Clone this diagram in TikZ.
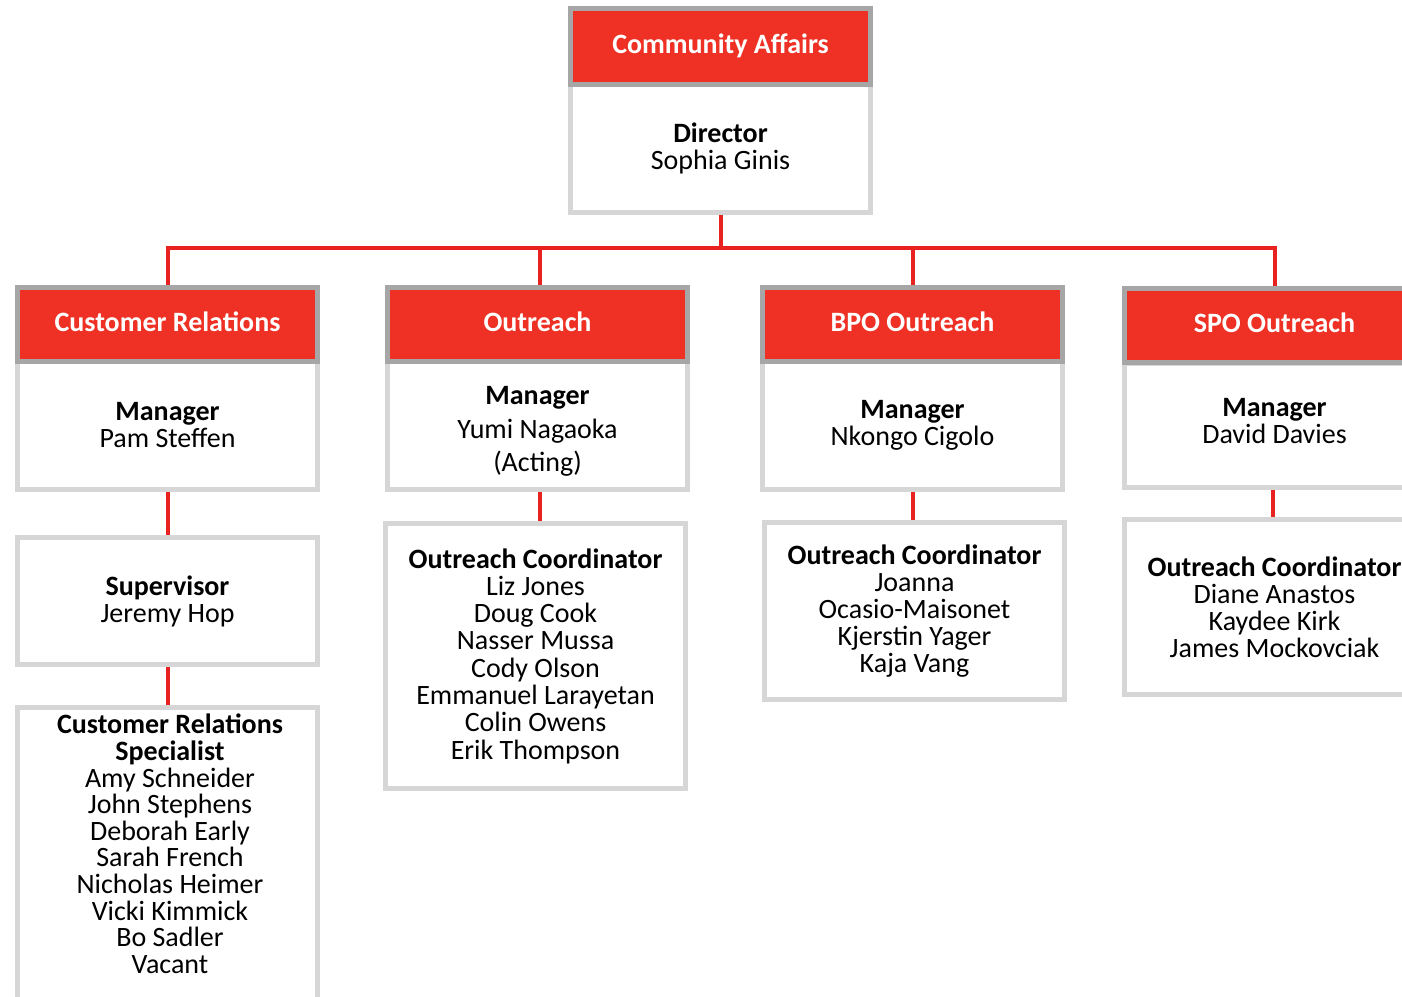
\documentclass[tikz,border=0pt]{standalone}
\usepackage{fontspec}
\setmainfont{Carlito}
\definecolor{hred}{HTML}{EE3124}
\definecolor{hgray}{HTML}{A6A6A6}
\definecolor{bgray}{HTML}{D6D6D6}
\definecolor{lred}{HTML}{E8221E}
\begin{document}
\begin{tikzpicture}[x=1pt,y=-1pt,
  hdr/.style={draw=hgray, line width=5pt, fill=hred, text=white,
    font=\fontsize{28}{27}\selectfont\bfseries, minimum width=300pt,
    minimum height=74pt, inner sep=0pt, text height=20pt, text depth=6pt},
  bodybox/.style={draw=bgray, line width=5pt, fill=white, minimum width=300pt,
    align=center, font=\fontsize{28}{27}\selectfont, inner sep=0pt},
  txt/.style={align=center, font=\fontsize{28}{26.6}\selectfont, inner sep=0pt},
  conn/.style={draw=lred, line width=4pt}]
\useasboundingbox (0,0) rectangle (1402,996);
\clip (0,0) rectangle (1402,996);
\fill[white] (0,0) rectangle (1402,996);
% top
\node[bodybox, minimum height=128pt] (cab) at (720.5,148.5) {\textbf{Director}\\Sophia Ginis};
\node[hdr, minimum height=76pt] (cah) at (720.5,46.5) {Community Affairs};
% level 2
\node[bodybox, minimum height=128pt] (crb) at (167.5,425.5) {\textbf{Manager}\\Pam Steffen};
\node[hdr] (crh) at (167.5,324.5) {Customer Relations};
\node[bodybox, minimum height=128pt] (outb) at (537.5,425.5) {};
\node[txt] (outbt) at (537.5,431.5) {\textbf{Manager}\\[7pt]Yumi Nagaoka\\[6.5pt](Acting)};
\node[hdr] (outh) at (537.5,324.5) {Outreach};
\node[bodybox, minimum height=128pt] (bpob) at (912.5,425.5) {\textbf{Manager}\\Nkongo Cigolo};
\node[hdr] (bpoh) at (912.5,324.5) {BPO Outreach};
\node[bodybox, minimum height=124pt] (spob) at (1274.5,425) {};
\node[txt] (spobt) at (1274.5,421) {\textbf{Manager}\\David Davies};
\node[hdr] (spoh) at (1274.5,325.5) {SPO Outreach};
% level 3
\node[bodybox, minimum height=127pt] (crs) at (167.5,601) {\textbf{Supervisor}\\Jeremy Hop};
\node[bodybox, minimum height=312.5pt] (crsp) at (167.5,863.75) {};
\node[txt, anchor=north] (crspt) at (170,714) {\textbf{Customer Relations}\\\textbf{Specialist}\\Amy Schneider\\John Stephens\\Deborah Early\\Sarah French\\Nicholas Heimer\\Vicki Kimmick\\Bo Sadler\\Vacant};
\node[bodybox, minimum height=265pt, font=\fontsize{28}{27.3}\selectfont] (outc) at (535.5,656) {\textbf{Outreach Coordinator}\\Liz Jones\\Doug Cook\\Nasser Mussa\\Cody Olson\\Emmanuel Larayetan\\Colin Owens\\Erik Thompson};
\node[bodybox, minimum height=177pt] (bpoc) at (914.5,611) {\textbf{Outreach Coordinator}\\Joanna\\Ocasio-Maisonet\\Kjerstin Yager\\Kaja Vang};
\node[bodybox, minimum height=175pt] (spoc) at (1274.5,607) {\textbf{Outreach Coordinator}\\Diane Anastos\\Kaydee Kirk\\James Mockovciak};
% connectors
\coordinate (bus) at (720.5,248);
\draw[conn] (cab.south) -- (bus);
\draw[conn] (crh.north) |- (bus) -| (spoh.north);
\draw[conn] ([xshift=2.5pt]outh.north) -- ([xshift=2.5pt]outh.north |- bus);
\draw[conn] (bpoh.north) -- (bpoh.north |- bus);
\draw[conn] (crb.south) -- (crs.north);
\draw[conn] (crs.south) -- (crsp.north);
\draw[conn] ([xshift=2.5pt]outb.south) -- ([xshift=2.5pt]outb.south |- outc.north);
\draw[conn] (bpob.south) -- (bpob.south |- bpoc.north);
\draw[conn] ([xshift=-1.5pt]spob.south) -- ([xshift=-1.5pt]spob.south |- spoc.north);
\end{tikzpicture}
\end{document}
